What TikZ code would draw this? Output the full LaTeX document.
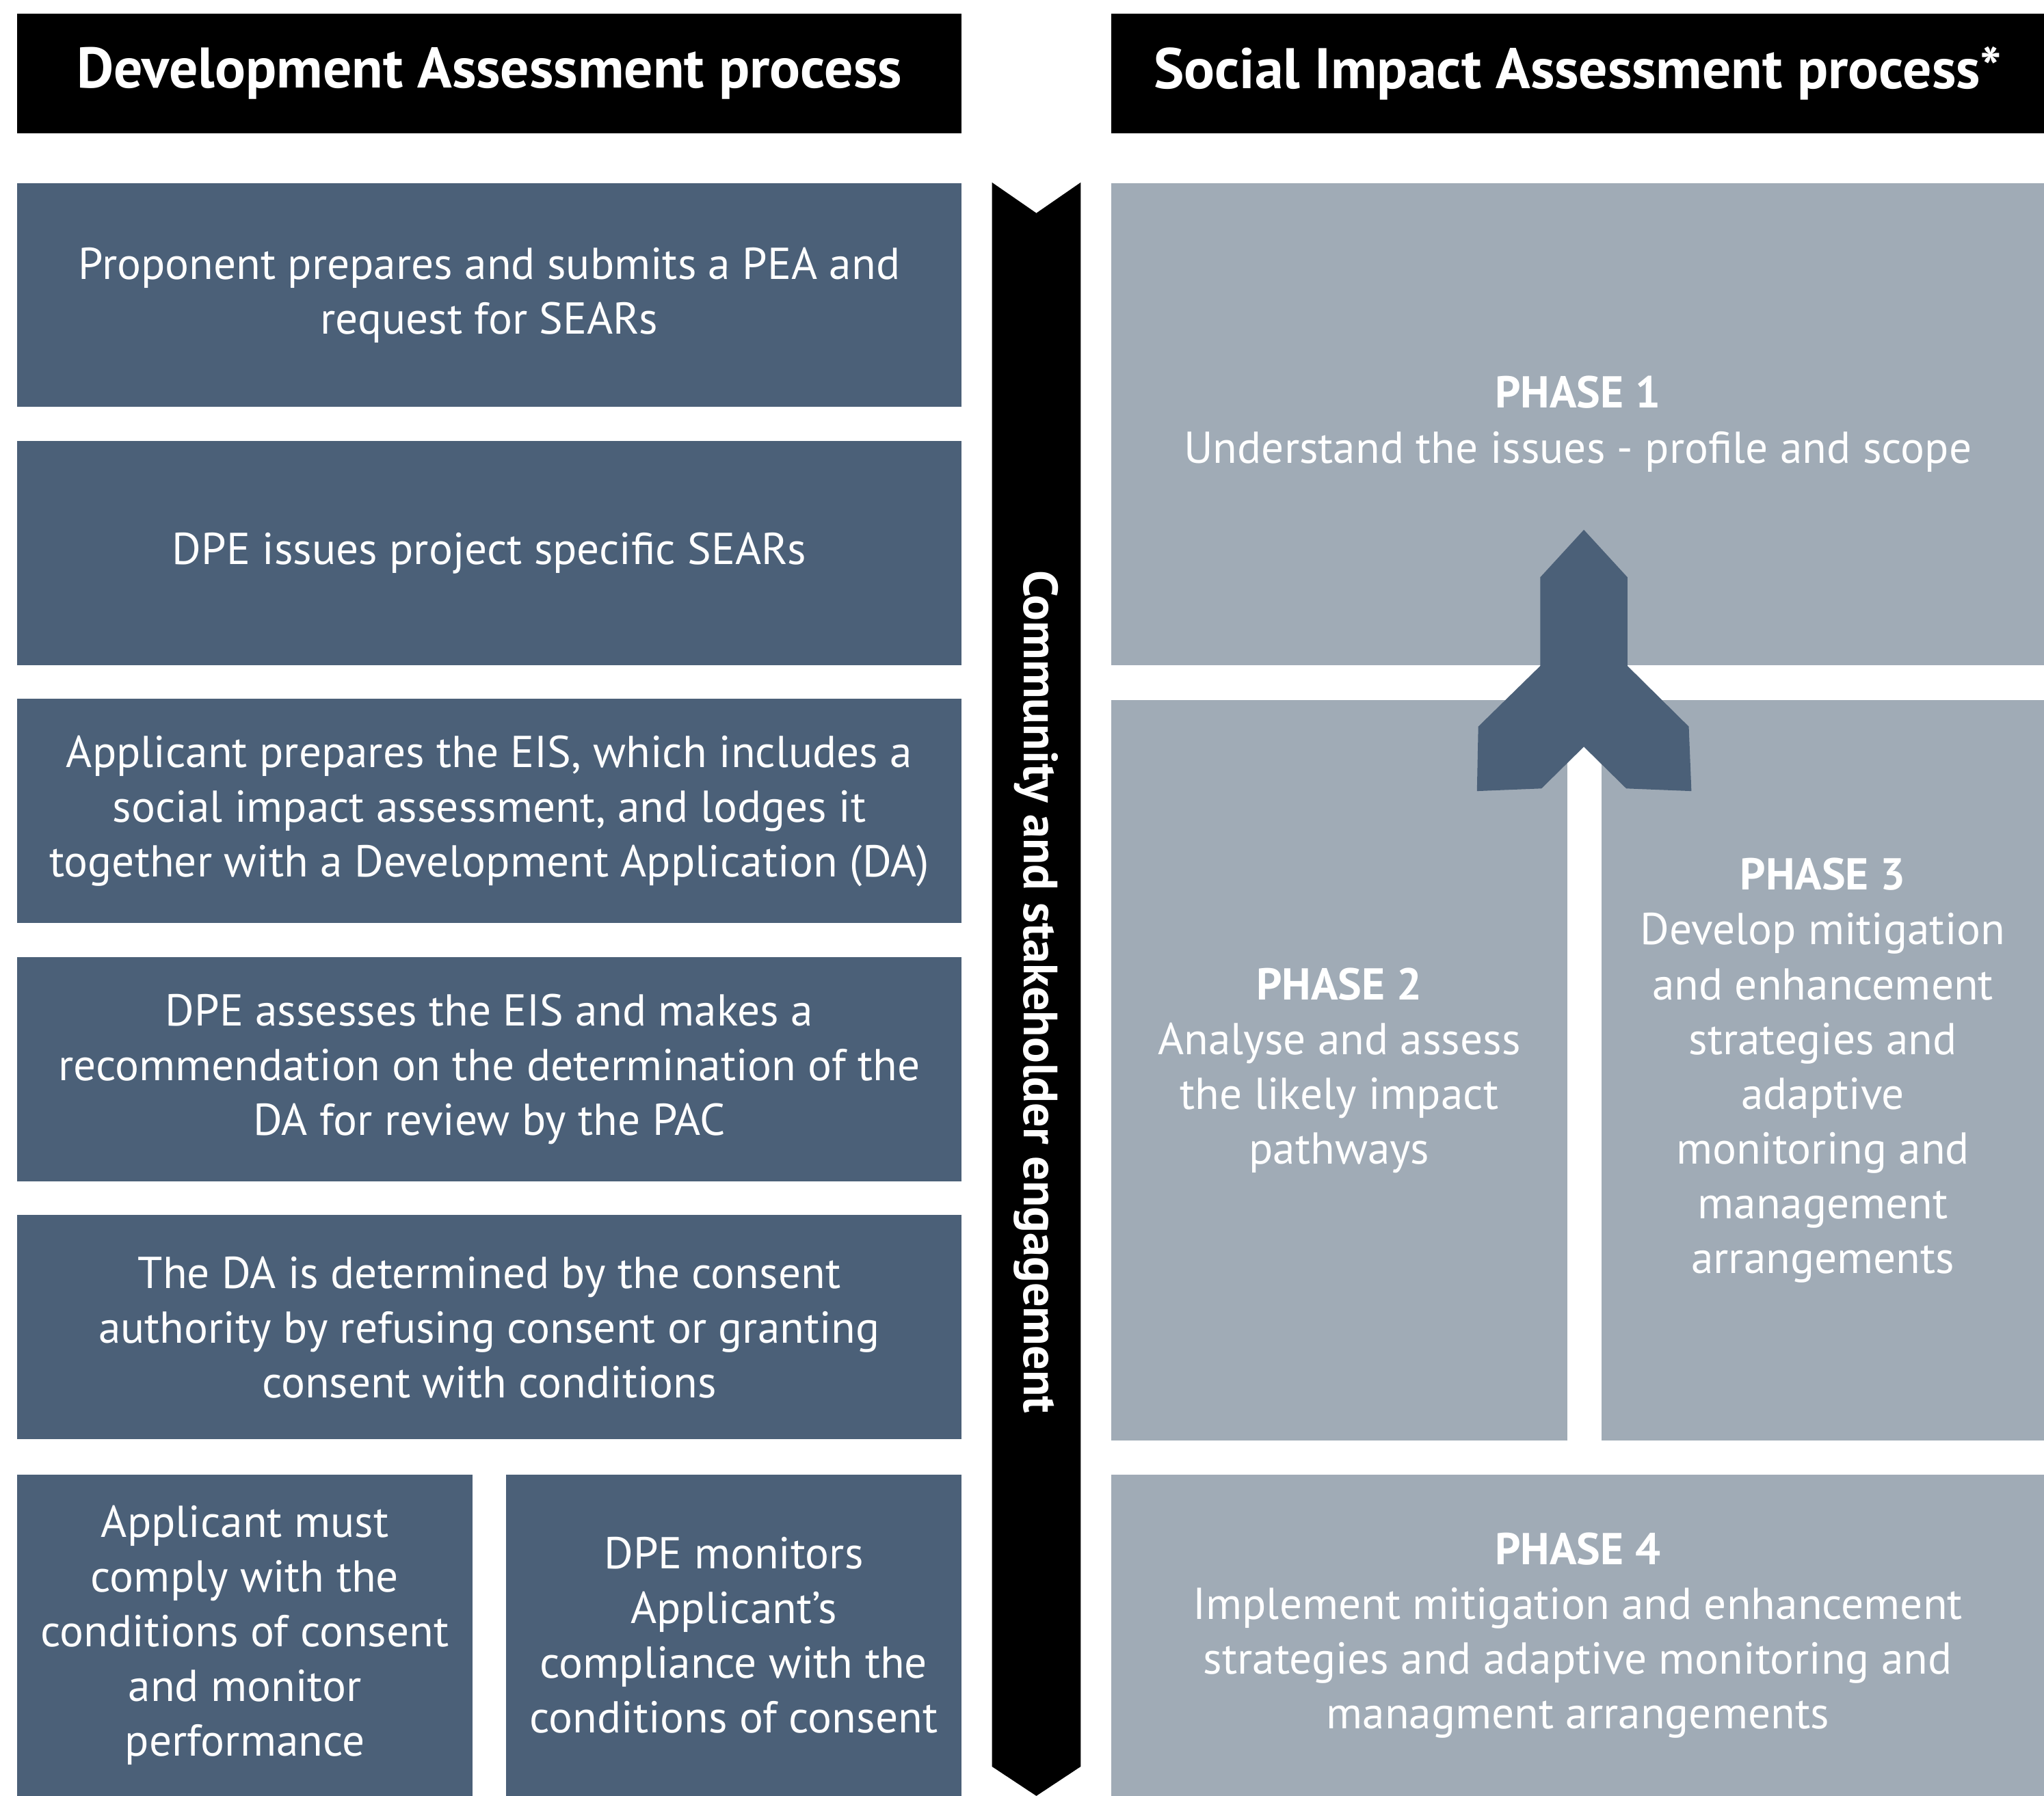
\documentclass[tikz,border=0pt]{standalone}
\usepackage{fontspec}
\setmainfont{PT Sans}
\definecolor{ardoise}{HTML}{4B6078}
\definecolor{grisbleu}{HTML}{A0ABB6}
\tikzset{
    entete/.style={fill=black, text=white, anchor=north west, inner sep=0pt,
        minimum height=1.84cm, font=\bfseries\fontsize{25}{29}\selectfont},
    etape/.style={fill=ardoise, text=white, anchor=north west, inner sep=0pt,
        align=center, font=\fontsize{19.5}{23.9}\selectfont},
    phase/.style={fill=grisbleu, text=white, anchor=north west, inner sep=0pt,
        align=center, font=\fontsize{19.5}{23.9}\selectfont}
}
\begin{document}
\begin{tikzpicture}
    \useasboundingbox (0,0) rectangle (31.36,-27.56);

    % Les deux en-tetes
    \node[entete, minimum width=14.48cm] (tetegauche) at (0.26,-0.2) {Development Assessment process};
    \node[entete, minimum width=14.32cm] (tetedroite) at (17.04,-0.2) {Social Impact Assessment process*};

    % Colonne de gauche : les etapes du DA
    \foreach \i/\txt in {1/{Proponent prepares and submits a PEA and\\request for SEARs},
                         2/{DPE issues project specific SEARs},
                         3/{Applicant prepares the EIS, which includes a\\social impact assessment, and lodges it\\together with a Development Application (DA)},
                         4/{DPE assesses the EIS and makes a\\recommendation on the determination of the\\DA for review by the PAC},
                         5/{The DA is determined by the consent\\authority by refusing consent or granting\\consent with conditions}}
        \node[etape, minimum width=14.48cm, minimum height=3.44cm] (etape\i) at (0.26,{-2.8-3.96*(\i-1)}) {\txt};

    % Les deux cases du bas
    \node[etape, minimum width=6.98cm, minimum height=4.94cm] (etape6) at (0.26,-22.62)
        {Applicant must\\comply with the\\conditions of consent\\and monitor\\performance};
    \node[etape, minimum width=6.98cm, minimum height=4.94cm] (etape7) at (7.76,-22.62)
        {DPE monitors\\Applicant’s\\compliance with the\\conditions of consent};

    % Bandeau vertical au milieu
    \fill[black] (15.22,-2.8) -- (15.9,-3.27) -- (16.58,-2.8) -- (16.58,-27.11)
        -- (15.9,-27.56) -- (15.22,-27.11) -- cycle;
    \node[rotate=-90, text=white, font=\bfseries\fontsize{21}{25}\selectfont] (bandeau) at (15.9,-15.22)
        {Community and stakeholder engagement};

    % Colonne de droite : les phases du SIA
    \node[phase, minimum width=14.32cm, minimum height=7.4cm] (phase1) at (17.04,-2.8)
        {\textbf{PHASE 1}\\Understand the issues - profile and scope};
    \node[phase, minimum width=7.0cm, minimum height=11.36cm] (phase2) at (17.04,-10.74)
        {\textbf{PHASE 2}\\Analyse and assess\\the likely impact\\pathways};
    \node[phase, minimum width=6.8cm, minimum height=11.36cm] (phase3) at (24.56,-10.74)
        {\textbf{PHASE 3}\\Develop mitigation\\and enhancement\\strategies and\\adaptive\\monitoring and\\management\\arrangements};
    \node[phase, minimum width=14.32cm, minimum height=4.94cm] (phase4) at (17.04,-22.62)
        {\textbf{PHASE 4}\\Implement mitigation and enhancement\\strategies and adaptive monitoring and\\managment arrangements};

    % La fleche qui remonte vers la phase 1
    \fill[ardoise] (24.30,-8.13) -- (24.97,-8.86) -- (24.97,-10.22) -- (25.91,-11.15)
        -- (25.95,-12.14) -- (24.95,-12.10) -- (24.30,-11.46) -- (23.65,-12.10)
        -- (22.66,-12.14) -- (22.68,-11.15) -- (23.63,-10.22) -- (23.63,-8.86) -- cycle;
\end{tikzpicture}
\end{document}
